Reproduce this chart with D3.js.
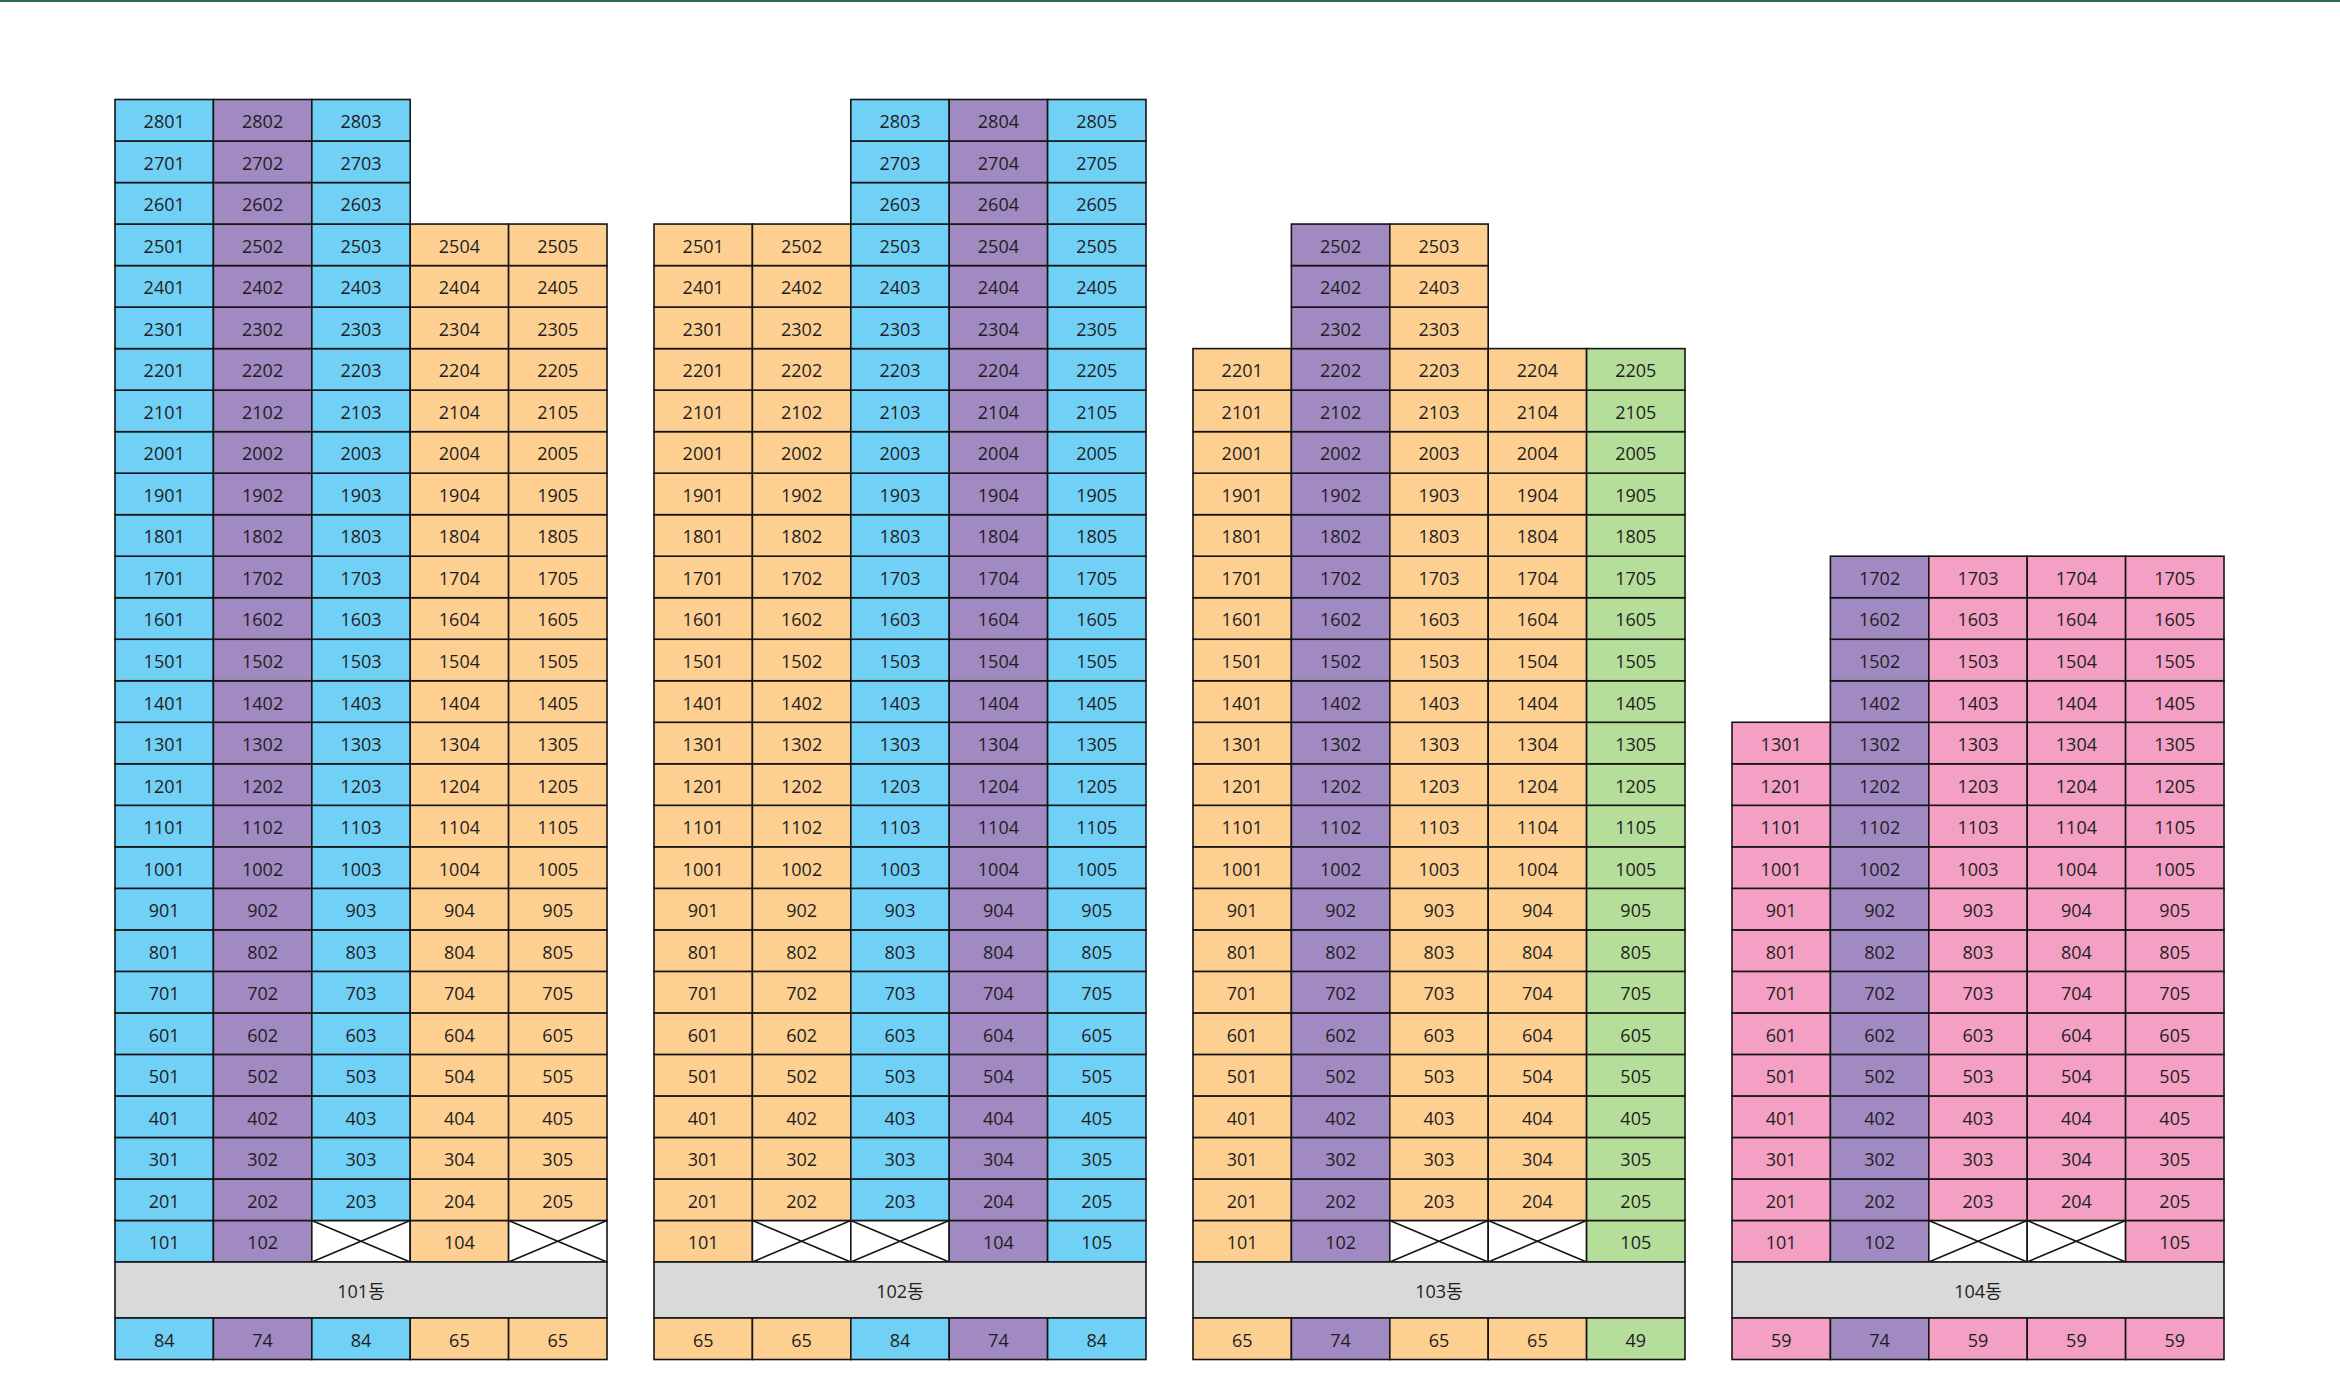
<!DOCTYPE html>
<html>
<head>
<meta charset="utf-8">
<script src="https://cdn.jsdelivr.net/npm/d3@7"></script>
<style>
  html, body { margin: 0; padding: 0; background: #fff; }
  svg text { font-family: "Open Sans", "Noto Sans CJK KR", sans-serif; fill: #1e1e1e; }
</style>
</head>
<body>
<svg id="chart" width="2340" height="1388"></svg>
<script>
// building names, unit type (m2) per line, top floor per line, empty units on floor 1
const buildings = ['101동', '102동', '103동', '104동'];
const unitTypes = [
  [84, 74, 84, 65, 65],
  [65, 65, 84, 74, 84],
  [65, 74, 65, 65, 49],
  [59, 74, 59, 59, 59]
];
const topFloors = [
  [28, 28, 28, 25, 25],
  [25, 25, 28, 28, 28],
  [22, 25, 25, 22, 22],
  [13, 17, 17, 17, 17]
];
const emptyUnits = [
  [103, 105],
  [102, 103],
  [103, 104],
  [103, 104]
];
const typeList = [84, 74, 65, 49, 59];
const typeColorList = ['#71d0f6', '#a18ac1', '#fdd092', '#b6de9b', '#f4a0c4'];

const svg = d3.select('#chart');
const W = 2340;

// thin green rule along the top edge
svg.append('rect').attr('x', 0).attr('y', 0).attr('width', W).attr('height', 2).attr('fill', '#2b6a52');

const maxFloor = d3.max(topFloors.flat());
const lines = d3.range(1, 6);

const x = d3.scaleBand().domain(buildings).range([115, 2224]).paddingInner(47 / 539).paddingOuter(0);
const xLine = d3.scaleBand().domain(lines).range([0, x.bandwidth()]);
const y = d3.scaleBand().domain(d3.range(maxFloor, 0, -1)).range([99.5, 1262]);
const color = d3.scaleOrdinal().domain(typeList).range(typeColorList);

const labelTop = 1262, labelH = 56, typeTop = labelTop + labelH, typeH = y.bandwidth();
const stroke = '#151515';
const fs = 18, dy = 1; // text nudged a touch lower, like the original

buildings.forEach((b, bi) => {
  const g = svg.append('g').attr('transform', `translate(${x(b)},0)`);

  const units = [];
  lines.forEach((ln, li) => {
    for (let f = 1; f <= topFloors[bi][li]; f++) {
      const no = f * 100 + ln;
      units.push({ floor: f, line: ln, no, type: unitTypes[bi][li], empty: emptyUnits[bi].includes(no) });
    }
  });

  const cell = g.selectAll('g.unit').data(units).join('g')
    .attr('class', 'unit')
    .attr('transform', d => `translate(${xLine(d.line)},${y(d.floor)})`);

  cell.append('rect')
    .attr('width', xLine.bandwidth())
    .attr('height', y.bandwidth())
    .attr('fill', d => d.empty ? '#fff' : color(d.type))
    .attr('stroke', stroke)
    .attr('stroke-width', 1.6);

  cell.filter(d => d.empty).append('path')
    .attr('d', `M0,0L${xLine.bandwidth()},${y.bandwidth()}M${xLine.bandwidth()},0L0,${y.bandwidth()}`)
    .attr('stroke', stroke)
    .attr('stroke-width', 1.6)
    .attr('fill', 'none');

  cell.filter(d => !d.empty).append('text')
    .attr('x', xLine.bandwidth() / 2)
    .attr('y', y.bandwidth() / 2 + dy)
    .attr('text-anchor', 'middle')
    .attr('dominant-baseline', 'central')
    .attr('font-size', fs)
    .text(d => d.no);

  // building name band
  g.append('rect')
    .attr('x', 0).attr('y', labelTop)
    .attr('width', x.bandwidth()).attr('height', labelH)
    .attr('fill', '#d9d9d9').attr('stroke', stroke).attr('stroke-width', 1.6);
  g.append('text')
    .attr('x', x.bandwidth() / 2).attr('y', labelTop + labelH / 2 + dy)
    .attr('text-anchor', 'middle').attr('dominant-baseline', 'central')
    .attr('font-size', fs)
    .text(b);

  // unit type row
  const t = g.selectAll('g.type').data(unitTypes[bi]).join('g')
    .attr('class', 'type')
    .attr('transform', (d, i) => `translate(${xLine(lines[i])},${typeTop})`);
  t.append('rect')
    .attr('width', xLine.bandwidth()).attr('height', typeH)
    .attr('fill', d => color(d)).attr('stroke', stroke).attr('stroke-width', 1.6);
  t.append('text')
    .attr('x', xLine.bandwidth() / 2).attr('y', typeH / 2 + dy)
    .attr('text-anchor', 'middle').attr('dominant-baseline', 'central')
    .attr('font-size', fs)
    .text(d => d);
});
</script>
</body>
</html>
